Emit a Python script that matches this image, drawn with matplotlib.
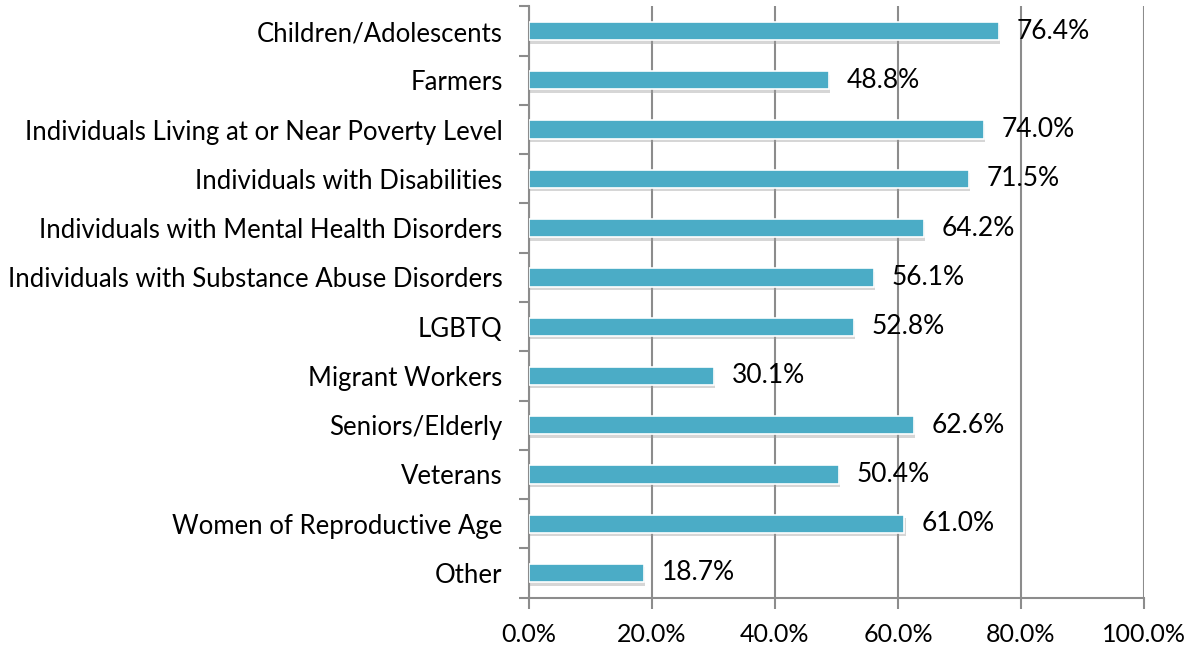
import matplotlib
matplotlib.use("Agg")
import matplotlib.pyplot as plt
import matplotlib.patheffects as pe

categories = ["Children/Adolescents", "Farmers", "Individuals Living at or Near Poverty Level",
              "Individuals with Disabilities", "Individuals with Mental Health Disorders",
              "Individuals with Substance Abuse Disorders", "LGBTQ", "Migrant Workers",
              "Seniors/Elderly", "Veterans", "Women of Reproductive Age", "Other"]
values = [76.4, 48.8, 74.0, 71.5, 64.2, 56.1, 52.8, 30.1, 62.6, 50.4, 61.0, 18.7]
xticks = [0, 20, 40, 60, 80, 100]

plt.rcParams['font.family'] = ['Lato', 'DejaVu Sans']

fig = plt.figure(figsize=(11.97, 6.45), dpi=100)
ax = fig.add_axes([0.4419, 0.0735, 0.5138, 0.9165])

n = len(categories)
ypos = list(range(n))
bars = ax.barh(ypos, values, height=0.37, color="#4BACC6", edgecolor="white", linewidth=1.2, zorder=3)
for b in bars:
    b.set_path_effects([pe.SimplePatchShadow(offset=(1, -2.5), shadow_rgbFace="#999999", alpha=0.4), pe.Normal()])

for y, v in zip(ypos, values):
    ax.text(v + 2.9, y, f"{v:.1f}%", va="center", ha="left", fontsize=19, color="black", zorder=4)

ax.set_ylim(n - 0.5, -0.5)
ax.set_xlim(0, 100)
ax.set_xticks(xticks)
ax.set_xticklabels([f"{t:.1f}%" for t in xticks], fontsize=18)
ax.set_yticks(ypos)
ax.set_yticklabels(categories, fontsize=18.5)
ax.set_yticks([i - 0.5 for i in range(n + 1)], minor=True)
ax.tick_params(axis='y', which='major', length=0, pad=19)
ax.tick_params(axis='y', which='minor', length=7, width=1.5, color="#8c8c8c")
ax.tick_params(axis='x', length=8, width=1.5, color="#8c8c8c", pad=10)
ax.xaxis.grid(True, color="#8c8c8c", linewidth=1.5, zorder=0)
ax.set_axisbelow(True)
for s in ["top", "right"]:
    ax.spines[s].set_visible(False)
for s in ["left", "bottom"]:
    ax.spines[s].set_color("#8c8c8c")
    ax.spines[s].set_linewidth(1.5)

fig.savefig("out.png", dpi=100)
